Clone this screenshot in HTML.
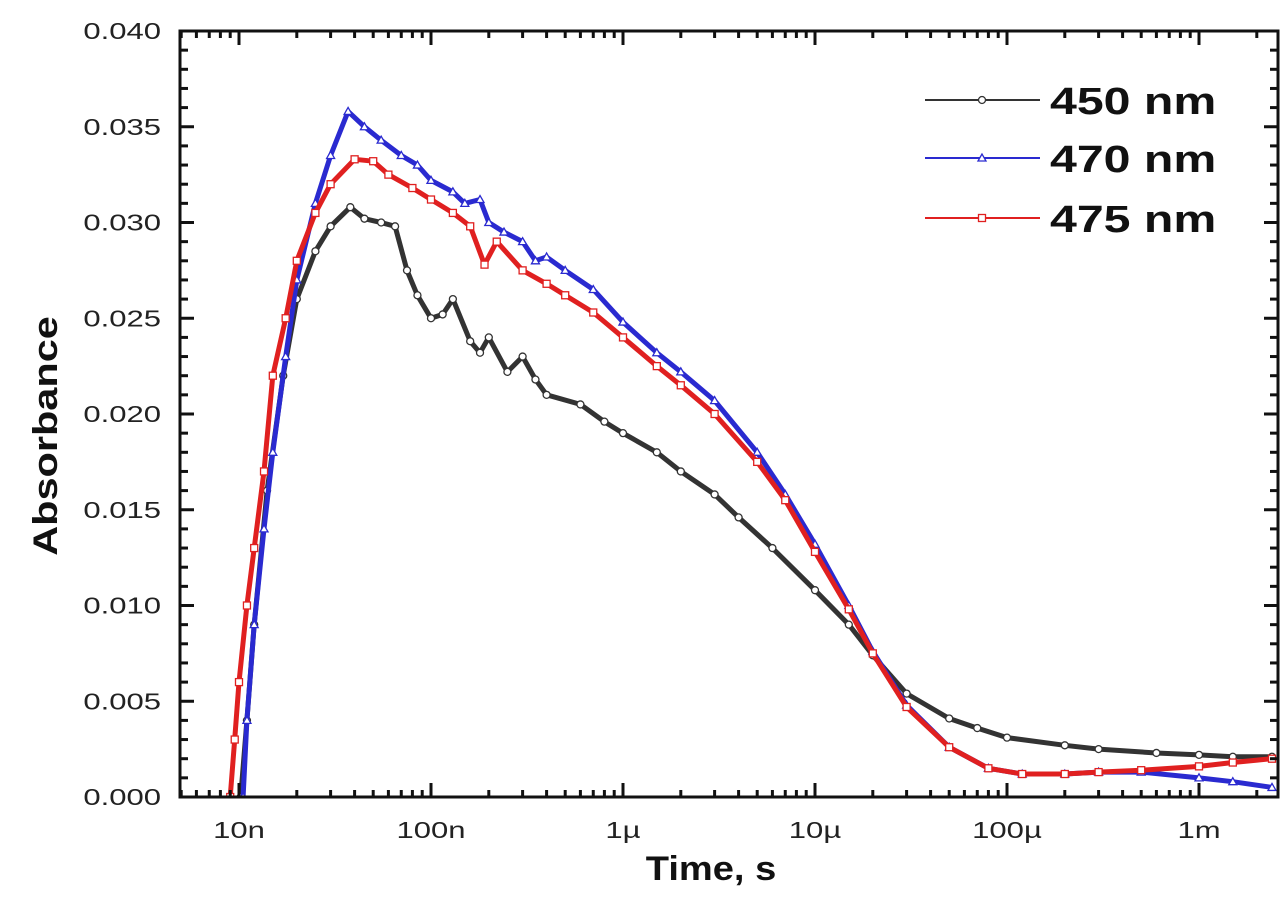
<!DOCTYPE html>
<html><head><meta charset="utf-8"><style>
body{margin:0;background:#fff;}
svg{display:block;font-family:"Liberation Sans",Arial,sans-serif;}
</style></head><body>
<svg id="chart" width="1280" height="910" viewBox="0 0 1280 910" xmlns="http://www.w3.org/2000/svg">
</svg>
<script>
const yTicks=[0,0.005,0.010,0.015,0.020,0.025,0.030,0.035,0.040];
const yTickLabels=["0.000","0.005","0.010","0.015","0.020","0.025","0.030","0.035","0.040"];
const xTickExp=[-8,-7,-6,-5,-4,-3];
const xTickLabels=["10n","100n","1\u00b5","10\u00b5","100\u00b5","1m"];
const t450=[1.02e-8,1.1e-8,1.2e-8,1.4e-8,1.7e-8,2e-8,2.5e-8,3e-8,3.8e-8,4.5e-8,5.5e-8,6.5e-8,7.5e-8,8.5e-8,1e-7,1.15e-7,1.3e-7,1.6e-7,1.8e-7,2e-7,2.5e-7,3e-7,3.5e-7,4e-7,6e-7,8e-7,1e-6,1.5e-6,2e-6,3e-6,4e-6,6e-6,1e-5,1.5e-5,2e-5,3e-5,5e-5,7e-5,1e-4,2e-4,3e-4,6e-4,1e-3,1.5e-3,2.4e-3];
const v450=[0,0.004,0.009,0.016,0.022,0.026,0.0285,0.0298,0.0308,0.0302,0.0300,0.0298,0.0275,0.0262,0.0250,0.0252,0.0260,0.0238,0.0232,0.0240,0.0222,0.0230,0.0218,0.0210,0.0205,0.0196,0.0190,0.0180,0.0170,0.0158,0.0146,0.0130,0.0108,0.0090,0.0074,0.0054,0.0041,0.0036,0.0031,0.0027,0.0025,0.0023,0.0022,0.0021,0.0021];
const t470=[1.05e-8,1.1e-8,1.2e-8,1.35e-8,1.5e-8,1.75e-8,2e-8,2.5e-8,3e-8,3.7e-8,4.5e-8,5.5e-8,7e-8,8.5e-8,1e-7,1.3e-7,1.5e-7,1.8e-7,2e-7,2.4e-7,3e-7,3.5e-7,4e-7,5e-7,7e-7,1e-6,1.5e-6,2e-6,3e-6,5e-6,7e-6,1e-5,1.5e-5,2e-5,3e-5,5e-5,8e-5,1.2e-4,2e-4,3e-4,5e-4,1e-3,1.5e-3,2.4e-3];
const v470=[0,0.004,0.009,0.014,0.018,0.023,0.027,0.031,0.0335,0.0358,0.0350,0.0343,0.0335,0.0330,0.0322,0.0316,0.0310,0.0312,0.0300,0.0295,0.0290,0.0280,0.0282,0.0275,0.0265,0.0248,0.0232,0.0222,0.0207,0.0180,0.0158,0.0132,0.0100,0.0076,0.0048,0.0026,0.0015,0.0012,0.0012,0.0013,0.0013,0.0010,0.0008,0.0005];
const t475=[9e-9,9.5e-9,1e-8,1.1e-8,1.2e-8,1.35e-8,1.5e-8,1.75e-8,2e-8,2.5e-8,3e-8,4e-8,5e-8,6e-8,8e-8,1e-7,1.3e-7,1.6e-7,1.9e-7,2.2e-7,3e-7,4e-7,5e-7,7e-7,1e-6,1.5e-6,2e-6,3e-6,5e-6,7e-6,1e-5,1.5e-5,2e-5,3e-5,5e-5,8e-5,1.2e-4,2e-4,3e-4,5e-4,1e-3,1.5e-3,2.4e-3];
const v475=[0,0.003,0.006,0.010,0.013,0.017,0.022,0.025,0.028,0.0305,0.0320,0.0333,0.0332,0.0325,0.0318,0.0312,0.0305,0.0298,0.0278,0.0290,0.0275,0.0268,0.0262,0.0253,0.0240,0.0225,0.0215,0.0200,0.0175,0.0155,0.0128,0.0098,0.0075,0.0047,0.0026,0.0015,0.0012,0.0012,0.0013,0.0014,0.0016,0.0018,0.0020];

const L=180,R=1278,T=31,B=797,X0=239,PX_DEC=192;
function xs(t){return X0+(Math.log10(t)+8)*PX_DEC;}
function ys(v){return B-v/0.04*(B-T);}
const NS="http://www.w3.org/2000/svg";
const svg=document.getElementById('chart');
function mk(tag,attrs,parent){const e=document.createElementNS(NS,tag);for(const k in attrs)e.setAttribute(k,attrs[k]);(parent||svg).appendChild(e);return e;}

const defs=mk('defs',{});const cp=mk('clipPath',{id:'clip'},defs);mk('rect',{x:L,y:T,width:R-L,height:B-T},cp);

function series(ts,vs,color,marker,name){
  const g=mk('g',{'clip-path':'url(#clip)'});
  
  
  let d='';ts.forEach((t,i)=>{d+=(i?'L':'M')+xs(t).toFixed(1)+','+ys(vs[i]).toFixed(1);});
  const p=mk('path',{d:d,fill:'none',stroke:color,'stroke-width':5,'stroke-linejoin':'round'},g);
  
  
  ts.forEach((t,i)=>{
    const x=xs(t),y=ys(vs[i]);let m;
    if(marker==='c')m=mk('circle',{cx:x,cy:y,r:3.5,fill:'#fff',stroke:color,'stroke-width':1.3},g);
    else if(marker==='t')m=mk('polygon',{points:`${x},${y-4} ${x-4},${y+3} ${x+4},${y+3}`,fill:'#fff',stroke:color,'stroke-width':1.3},g);
    else m=mk('rect',{x:x-3.5,y:y-3.5,width:7,height:7,fill:'#fff',stroke:color,'stroke-width':1.3},g);
    
    
  });
}
series(t450,v450,'#333','c','series-450nm');
series(t470,v470,'#2a2ad0','t','series-470nm');
series(t475,v475,'#e02020','s','series-475nm');

const fr=mk('rect',{x:L,y:T,width:R-L,height:B-T,fill:'none',stroke:'#111','stroke-width':3});



for(let i=0;i<=40;i++){
  const y=ys(i*0.001),len=(i%5===0)?14:8;
  mk('line',{x1:L,y1:y,x2:L+len,y2:y,stroke:'#111','stroke-width':3});
  mk('line',{x1:R,y1:y,x2:R-len,y2:y,stroke:'#111','stroke-width':3});
}
yTicks.forEach((v,i)=>{
  const t=mk('text',{x:0,y:0,'text-anchor':'end','font-size':23,fill:'#222',transform:`translate(161,${ys(v)+8}) scale(1.35,1)`});
  t.textContent=yTickLabels[i];
  
  
});
for(let e=-9;e<=-3;e++){
  for(let k=1;k<10;k++){
    const x=xs(k*Math.pow(10,e));if(x<L||x>R)continue;
    const len=k===1?14:7;
    mk('line',{x1:x,y1:B,x2:x,y2:B-len,stroke:'#111','stroke-width':3});
    mk('line',{x1:x,y1:T,x2:x,y2:T+len,stroke:'#111','stroke-width':3});
  }
}
xTickExp.forEach((e,i)=>{
  const t=mk('text',{x:0,y:0,'text-anchor':'middle','font-size':23,fill:'#222',transform:`translate(${xs(Math.pow(10,e))},838) scale(1.35,1)`});
  t.textContent=xTickLabels[i];
  
  
});
const xt=mk('text',{x:0,y:0,'text-anchor':'middle','font-size':34,'font-weight':'bold',fill:'#111',transform:'translate(711,880) scale(1.12,1)'});
xt.textContent='Time, s';


const yt=mk('text',{x:0,y:0,'text-anchor':'middle','font-size':34,'font-weight':'bold',fill:'#111',transform:'translate(57,436) rotate(-90) scale(1.22,1)'});
yt.textContent='Absorbance';



const leg=[['450 nm','#333','c',100],['470 nm','#2a2ad0','t',158],['475 nm','#e02020','s',218]];
leg.forEach(l=>{
  const g=mk('g',{});
  
  
  mk('line',{x1:925,y1:l[3],x2:1040,y2:l[3],stroke:l[1],'stroke-width':2},g);
  const x=982,y=l[3];
  if(l[2]==='c')mk('circle',{cx:x,cy:y,r:3.5,fill:'#fff',stroke:l[1],'stroke-width':1.3},g);
  else if(l[2]==='t')mk('polygon',{points:`${x},${y-4} ${x-4},${y+3} ${x+4},${y+3}`,fill:'#fff',stroke:l[1],'stroke-width':1.3},g);
  else mk('rect',{x:x-3.5,y:y-3.5,width:7,height:7,fill:'#fff',stroke:l[1],'stroke-width':1.3},g);
  const t=mk('text',{x:0,y:0,'font-size':38,'font-weight':'bold',fill:'#111',transform:`translate(1050,${l[3]+14}) scale(1.27,1)`},g);
  t.textContent=l[0];
});
</script>
</body></html>
